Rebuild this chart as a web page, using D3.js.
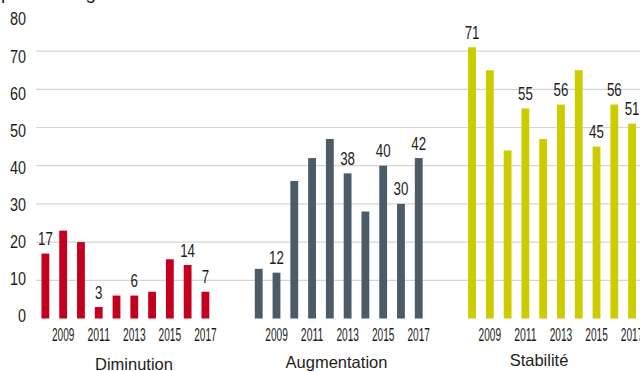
<!DOCTYPE html>
<html>
<head>
<meta charset="utf-8">
<script src="https://cdn.jsdelivr.net/npm/d3@7"></script>
<style>
  html, body { margin: 0; padding: 0; background: #fff; }
  svg { display: block; }
</style>
</head>
<body>
<svg id="chart" width="640" height="371"></svg>
<script>
// ---- data ----
const groups = ["Diminution", "Augmentation", "Stabilité"];
const years = [2008, 2009, 2010, 2011, 2012, 2013, 2014, 2015, 2016, 2017];
const yearTicks = [2009, 2011, 2013, 2015, 2017];
const diminution   = [17, 23, 20, 3, 6, 6, 7, 15.5, 14, 7];
const augmentation = [13, 12, 36, 42, 47, 38, 28, 40, 30, 42];
const stabilite    = [71, 65, 44, 55, 47, 56, 65, 45, 56, 51];
// which bars carry a value label (1 = shown)
const diminutionLabels   = [1, 0, 0, 1, 0, 1, 0, 0, 1, 1];
const augmentationLabels = [0, 1, 0, 0, 0, 1, 0, 1, 1, 1];
const stabiliteLabels    = [1, 0, 0, 1, 0, 1, 0, 1, 1, 1];
const yTicks = [0, 10, 20, 30, 40, 50, 60, 70, 80];
const gridTicks = [10, 20, 30, 40, 50, 60, 70];
const colors = ["#c5001f", "#4b5b68", "#cccc00"];
const titleText = "pourcentage";

const series = [
  { group: groups[0], values: diminution,   labels: diminutionLabels,   color: colors[0] },
  { group: groups[1], values: augmentation, labels: augmentationLabels, color: colors[1] },
  { group: groups[2], values: stabilite,    labels: stabiliteLabels,    color: colors[2] }
];

// ---- scales ----
const svg = d3.select("#chart");
const W = 640, H = 371;
const y = d3.scaleLinear().domain([0, 80]).range([318.5, 12.9]);
const yLab = d3.scaleLinear().domain([0, 80]).range([315.8, 19.2]);
const groupStep = 213.33;
const x0 = d3.scaleBand().domain(groups).range([36.5, 36.5 + groupStep * 3]).paddingInner(0).paddingOuter(0);
const x1 = d3.scaleBand().domain(years).range([0, 177.8]).paddingInner(0.56).paddingOuter(0.28);
const gx = d3.scalePoint().domain(groups).range([134, 539]);
const gy = d3.scalePoint().domain(groups).range([370, 365.5]);

const textColor = "#1d1d1b";
const narrow = "'Liberation Sans Narrow', 'Arial Narrow', 'Liberation Sans', Arial, sans-serif";
const regular = "'Liberation Sans', Arial, sans-serif";

// partially visible title at top
svg.append("text")
  .attr("x", 1).attr("y", -1)
  .attr("font-family", regular).attr("font-size", 19)
  .attr("fill", textColor)
  .text(titleText);

// gridlines
svg.append("g").selectAll("line").data(gridTicks).join("line")
  .attr("x1", 36).attr("x2", W)
  .attr("y1", d => y(d)).attr("y2", d => y(d))
  .attr("stroke", "#d5d5d5").attr("stroke-width", 1.2);

// y-axis labels
const yAxis = d3.axisLeft(yLab).tickValues(yTicks).tickSize(0).tickPadding(0).tickFormat(d3.format("d"));
const yg = svg.append("g").attr("transform", "translate(26,0)").call(yAxis);
yg.select(".domain").remove();
yg.selectAll("text")
  .attr("font-family", narrow).attr("font-size", 18).attr("fill", textColor)
  .attr("textLength", d => String(d).length * 8).attr("lengthAdjust", "spacingAndGlyphs");

// groups
series.forEach(s => {
  const g = svg.append("g").attr("transform", `translate(${x0(s.group)},0)`);
  const data = years.map((yr, i) => ({ yr, v: s.values[i], lab: s.labels[i] }));
  g.selectAll("rect").data(data).join("rect")
    .attr("x", d => x1(d.yr))
    .attr("width", x1.bandwidth())
    .attr("y", d => y(d.v))
    .attr("height", d => y(0) - y(d.v))
    .attr("fill", s.color);

  g.selectAll("text.val").data(data.filter(d => d.lab)).join("text")
    .attr("class", "val")
    .attr("x", d => x1(d.yr) + x1.bandwidth() / 2)
    .attr("y", d => y(d.v) - 8.5)
    .attr("text-anchor", "middle")
    .attr("font-family", narrow).attr("font-size", 17.5)
    .attr("fill", textColor)
    .attr("textLength", d => String(Math.round(d.v)).length * 7.4)
    .attr("lengthAdjust", "spacingAndGlyphs")
    .text(d => Math.round(d.v));

  const xa = d3.axisBottom(x1).tickValues(yearTicks).tickSize(0).tickPadding(10);
  const ag = g.append("g").attr("transform", `translate(0,${y(0)})`).call(xa);
  ag.select(".domain").remove();
  ag.selectAll("text")
    .attr("font-family", narrow).attr("font-size", 17.5).attr("fill", textColor)
    .attr("textLength", 22.5).attr("lengthAdjust", "spacingAndGlyphs");
});

// group labels
svg.append("g").selectAll("text").data(groups).join("text")
  .attr("x", d => gx(d)).attr("y", d => gy(d))
  .attr("text-anchor", "middle")
  .attr("font-family", regular).attr("font-size", 16.5)
  .attr("fill", textColor)
  .text(d => d);
</script>
</body>
</html>
